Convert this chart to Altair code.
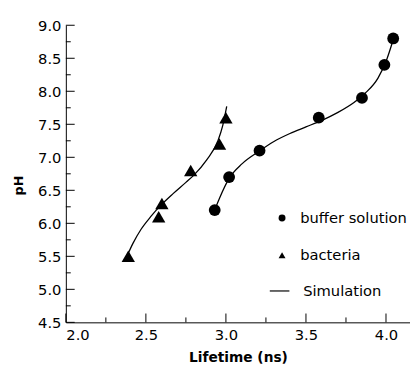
import altair as alt
import pandas as pd

# measured data
buffer_lifetime = [2.93, 3.02, 3.21, 3.58, 3.85, 3.99, 4.045]
buffer_ph = [6.2, 6.7, 7.1, 7.6, 7.9, 8.4, 8.8]
bacteria_lifetime = [2.39, 2.58, 2.60, 2.78, 2.96, 3.00]
bacteria_ph = [5.5, 6.1, 6.3, 6.8, 7.2, 7.6]

# simulation curves
sim_buffer_x = [2.925, 2.96, 3.02, 3.10, 3.20, 3.30, 3.40, 3.50, 3.60, 3.70, 3.80, 3.87, 3.95, 4.00, 4.045]
sim_buffer_y = [6.17, 6.38, 6.68, 6.90, 7.08, 7.24, 7.36, 7.46, 7.56, 7.68, 7.83, 7.97, 8.20, 8.45, 8.78]
sim_bact_x = [2.385, 2.42, 2.47, 2.53, 2.60, 2.67, 2.75, 2.80, 2.88, 2.95, 2.98, 3.005]
sim_bact_y = [5.52, 5.70, 5.91, 6.10, 6.29, 6.45, 6.62, 6.73, 6.96, 7.25, 7.48, 7.77]

series_names = ["buffer solution", "bacteria"]
sim_name = "Simulation"

x_major = [2.0, 2.5, 3.0, 3.5, 4.0]
x_minor = [2.25, 2.75, 3.25, 3.75]
y_major = [4.5, 5.0, 5.5, 6.0, 6.5, 7.0, 7.5, 8.0, 8.5, 9.0]
y_minor = [4.75, 5.25, 5.75, 6.25, 6.75, 7.25, 7.75, 8.25, 8.75]

FONT = "DejaVu Sans"
W, H = 351, 303

points = pd.DataFrame({
    "lifetime": buffer_lifetime + bacteria_lifetime,
    "pH": buffer_ph + bacteria_ph,
    "series": [series_names[0]] * len(buffer_lifetime) + [series_names[1]] * len(bacteria_lifetime),
})
sims = pd.DataFrame({
    "lifetime": sim_buffer_x + sim_bact_x,
    "pH": sim_buffer_y + sim_bact_y,
    "curve": ["buffer"] * len(sim_buffer_x) + ["bacteria"] * len(sim_bact_x),
    "label": [sim_name] * (len(sim_buffer_x) + len(sim_bact_x)),
    "ord": list(range(len(sim_buffer_x))) + list(range(len(sim_bact_x))),
})

xs = alt.Scale(domain=[2.0, 4.15], nice=False, zero=False)
ys = alt.Scale(domain=[4.5, 9.0], nice=False, zero=False)

x_axis = alt.Axis(values=x_major, format=".1f", tickSize=0, labelPadding=5,
                  title="Lifetime (ns)", titlePadding=9, grid=False)
y_axis = alt.Axis(values=y_major, format=".1f", tickSize=0, labelPadding=5,
                  title="pH", titlePadding=12, titleY=163, grid=False)

pts = alt.Chart(points).mark_point(filled=True, color="black", opacity=1).encode(
    x=alt.X("lifetime:Q", scale=xs, axis=x_axis),
    y=alt.Y("pH:Q", scale=ys, axis=y_axis),
    shape=alt.Shape("series:N",
                    scale=alt.Scale(domain=series_names, range=["circle", "triangle-up"]),
                    legend=alt.Legend(title=None, orient="none", legendX=213, legendY=189,
                                      symbolSize=50, labelFont=FONT, labelFontSize=15,
                                      labelColor="black", labelOffset=11, rowPadding=22)),
    size=alt.condition(alt.datum.series == "bacteria", alt.value(185), alt.value(145)),
)

lines = alt.Chart(sims).mark_line(strokeWidth=1.3, interpolate="monotone").encode(
    x=alt.X("lifetime:Q", scale=xs, axis=x_axis),
    y=alt.Y("pH:Q", scale=ys, axis=y_axis),
    stroke=alt.Stroke("label:N", scale=alt.Scale(domain=[sim_name], range=["black"]),
                      legend=alt.Legend(title=None, orient="none", legendX=207, legendY=260,
                                        symbolType="stroke", symbolSize=400, symbolStrokeWidth=1.2,
                                        labelFont=FONT, labelFontSize=15, labelColor="black",
                                        labelOffset=13)),
    detail="curve:N",
    order="ord:Q",
)

def xticks(vals, length):
    return alt.Chart(pd.DataFrame({"v": vals})).mark_rule(color="black", strokeWidth=1).encode(
        x=alt.X("v:Q", scale=xs, axis=x_axis), y=alt.value(H), y2=alt.value(H - length))

def yticks(vals, length):
    return alt.Chart(pd.DataFrame({"v": vals})).mark_rule(color="black", strokeWidth=1).encode(
        y=alt.Y("v:Q", scale=ys, axis=y_axis), x=alt.value(0), x2=alt.value(length))

chart = alt.layer(
    pts, lines, xticks(x_major, 9), xticks(x_minor, 5), yticks(y_major, 9), yticks(y_minor, 5)
).properties(
    width=W, height=H,
    autosize=alt.AutoSizeParams(type="none"),
    padding={"left": 59, "top": 14, "right": 0, "bottom": 45},
).configure_view(stroke=None).configure_axis(
    domainColor="black", domainWidth=1, labelFont=FONT, labelFontSize=15, labelColor="black",
    titleFont=FONT, titleFontSize=14, titleFontWeight="bold", titleColor="black",
).configure_axisY(titleFontSize=13)

chart.save("out.html", embed_options={"renderer": "svg", "actions": False})
